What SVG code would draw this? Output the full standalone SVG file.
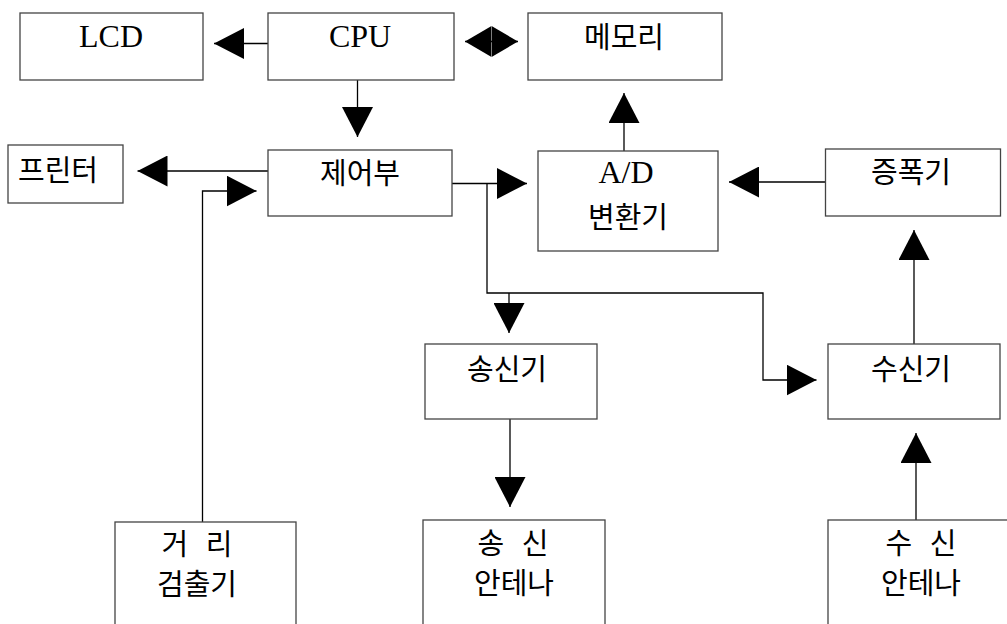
<svg xmlns="http://www.w3.org/2000/svg" width="1007" height="624" viewBox="0 0 1007 624">
<style>
.box{fill:#fff;stroke:#444;stroke-width:1.3}
.lat{font-family:"Liberation Serif","Times New Roman",serif;font-size:32px;fill:#000;text-anchor:middle}
.kr{font-family:"Noto Sans CJK KR","Noto Sans",sans-serif;font-size:29px;fill:#000;text-anchor:middle}
.ln{fill:none;stroke:#000;stroke-width:1.3}
</style>
<defs>
<marker id="ah" markerUnits="userSpaceOnUse" viewBox="0 0 30 31" markerWidth="30" markerHeight="31" refX="30" refY="15.5" orient="auto-start-reverse">
<path d="M0,0 L30,15.5 L0,31 Z" fill="#000"/>
</marker>
<marker id="ahd" markerUnits="userSpaceOnUse" viewBox="0 0 26.5 31" markerWidth="26.5" markerHeight="31" refX="26.5" refY="15.5" orient="auto-start-reverse">
<path d="M0,0 L26.5,15.5 L0,31 Z" fill="#000"/>
</marker>
</defs>
<rect width="1007" height="624" fill="#fff"/>
<g id="connectors">
<path class="ln" d="M268,43.5 H214" marker-end="url(#ah)"/>
<path class="ln" d="M465,41.5 H518" marker-start="url(#ahd)" marker-end="url(#ahd)"/>
<path class="ln" d="M357.5,80 V137" marker-end="url(#ah)"/>
<path class="ln" d="M268,171 H137.5" marker-end="url(#ah)"/>
<path class="ln" d="M202.5,522 V191 H256.5" marker-end="url(#ah)"/>
<path class="ln" d="M452,183.5 H527" marker-end="url(#ah)"/>
<path class="ln" d="M487,183.5 V293 H763 V380 H816.5" marker-end="url(#ah)"/>
<path class="ln" d="M509,293 V333" marker-end="url(#ah)"/>
<path class="ln" d="M624,151 V93" marker-end="url(#ah)"/>
<path class="ln" d="M825.5,182 H729" marker-end="url(#ah)"/>
<path class="ln" d="M914,344 V230" marker-end="url(#ah)"/>
<path class="ln" d="M510,419 V507" marker-end="url(#ah)"/>
<path class="ln" d="M916,520 V433" marker-end="url(#ah)"/>
</g>
<g id="lcd"><rect class="box" x="20" y="13" width="183" height="67"/><text class="lat" x="111" y="47">LCD</text></g>
<g id="cpu"><rect class="box" x="268" y="13" width="186" height="67"/><text class="lat" x="360" y="47">CPU</text></g>
<g id="memory"><rect class="box" x="528" y="13" width="194" height="67"/><text class="kr" x="624" y="47.5">메모리</text></g>
<g id="printer"><rect class="box" x="8" y="145" width="115" height="58"/><text class="kr" x="58" y="181">프린터</text></g>
<g id="control"><rect class="box" x="268" y="150" width="184" height="66"/><text class="kr" x="360" y="184">제어부</text></g>
<g id="adc"><rect class="box" x="538" y="151" width="180" height="100"/><text class="lat" x="626" y="183">A/D</text><text class="kr" x="628" y="228">변환기</text></g>
<g id="amp"><rect class="box" x="825.5" y="149" width="175" height="67"/><text class="kr" x="911" y="183">증폭기</text></g>
<g id="tx"><rect class="box" x="425" y="344" width="172" height="75"/><text class="kr" x="507" y="380">송신기</text></g>
<g id="rx"><rect class="box" x="828" y="344" width="172" height="75"/><text class="kr" x="911" y="380">수신기</text></g>
<g id="range"><rect class="box" x="115" y="522" width="181" height="120"/><text class="kr" x="197" y="555" word-spacing="11">거 리</text><text class="kr" x="197" y="595">검출기</text></g>
<g id="txant"><rect class="box" x="423" y="520" width="182" height="120"/><text class="kr" x="513" y="554" word-spacing="11">송 신</text><text class="kr" x="514" y="594">안테나</text></g>
<g id="rxant"><rect class="box" x="828" y="520" width="200" height="120"/><text class="kr" x="921" y="554" word-spacing="11">수 신</text><text class="kr" x="921" y="594">안테나</text></g>
</svg>
